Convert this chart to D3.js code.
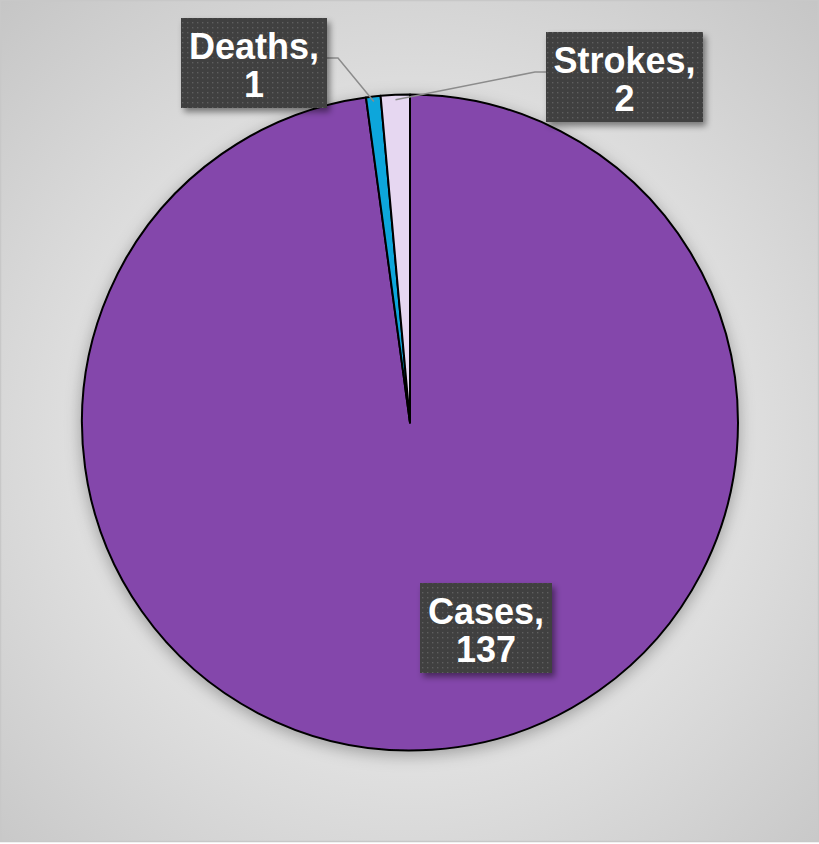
<!DOCTYPE html>
<html>
<head>
<meta charset="utf-8">
<script src="https://cdn.jsdelivr.net/npm/d3@7"></script>
<style>
  html, body { margin: 0; padding: 0; background: #fff; }
  svg { display: block; }
</style>
</head>
<body>
<svg id="chart" width="819" height="844"></svg>
<script>
// data
var categories = ['Cases', 'Deaths', 'Strokes']
var values = [137, 1, 2]
var colors = ['#8446ab', '#0ea6db', '#e6d7f1']

// label boxes (Excel style callouts)
var labelBoxes = [
  { x: 420, y: 583, w: 132, h: 90, leader: false },
  { x: 181, y: 18, w: 146, h: 90, leader: 'right' },
  { x: 546, y: 32, w: 157, h: 90, leader: 'left' }
]

var width = 819, height = 844
var cx = 410, cy = 422.5, radius = 328

var svg = d3.select('#chart')
var defs = svg.append('defs')

var bg = defs.append('radialGradient')
  .attr('id', 'bg')
  .attr('gradientUnits', 'userSpaceOnUse')
  .attr('cx', cx).attr('cy', cy + 20).attr('r', 620)
bg.append('stop').attr('offset', '0%').attr('stop-color', '#efefef')
bg.append('stop').attr('offset', '45%').attr('stop-color', '#e4e4e4')
bg.append('stop').attr('offset', '100%').attr('stop-color', '#c4c4c4')

var pieShadow = defs.append('filter').attr('id', 'pieShadow')
  .attr('x', '-20%').attr('y', '-20%').attr('width', '140%').attr('height', '140%')
pieShadow.append('feDropShadow')
  .attr('dx', 0).attr('dy', 4).attr('stdDeviation', 8)
  .attr('flood-color', '#000').attr('flood-opacity', 0.3)

var boxShadow = defs.append('filter').attr('id', 'boxShadow')
  .attr('x', '-20%').attr('y', '-20%').attr('width', '140%').attr('height', '140%')
boxShadow.append('feDropShadow')
  .attr('dx', 3).attr('dy', 4).attr('stdDeviation', 3)
  .attr('flood-color', '#000').attr('flood-opacity', 0.45)

var dots = defs.append('pattern')
  .attr('id', 'dots')
  .attr('patternUnits', 'userSpaceOnUse')
  .attr('width', 5).attr('height', 5)
dots.append('rect').attr('width', 5).attr('height', 5).attr('fill', '#404040')
dots.append('rect').attr('x', 2).attr('y', 2).attr('width', 1.4).attr('height', 1.4)
  .attr('fill', '#5e5e5e')

// background + frame
svg.append('rect')
  .attr('x', 0.5).attr('y', 0.5)
  .attr('width', width - 1).attr('height', height - 3)
  .attr('fill', 'url(#bg)')
  .attr('stroke', '#c8c8c8')
  .attr('stroke-width', 1.5)

var pie = d3.pie().sort(null).value((d) => d)
var arcs = pie(values)

var arc = d3.arc().innerRadius(0).outerRadius(radius)

var g = svg.append('g').attr('transform', 'translate(' + cx + ',' + cy + ')')

g.append('g')
  .attr('filter', 'url(#pieShadow)')
  .selectAll('path')
  .data(arcs)
  .enter()
  .append('path')
    .attr('d', arc)
    .attr('fill', (d, i) => colors[i])
    .attr('stroke', '#000')
    .attr('stroke-width', 2)
    .attr('stroke-linejoin', 'round')

// leader lines
var edgeArc = d3.arc().innerRadius(radius - 5).outerRadius(radius - 5)
arcs.forEach((d, i) => {
  var b = labelBoxes[i]
  if (!b.leader) return
  var p = edgeArc.centroid(d)
  var px = cx + p[0], py = cy + p[1]
  var sx = b.leader === 'right' ? b.x + b.w : b.x
  var sy = b.y + 40
  var kx = b.leader === 'right' ? sx + 11 : sx - 11
  svg.append('polyline')
    .attr('points', [[sx, sy], [kx, sy], [px, py]].map((q) => q.join(',')).join(' '))
    .attr('fill', 'none')
    .attr('stroke', '#8c8c8c')
    .attr('stroke-width', 1.5)
})

// label boxes
var labels = svg.append('g')
  .selectAll('g')
  .data(arcs)
  .enter()
  .append('g')

labels.append('rect')
  .attr('x', (d, i) => labelBoxes[i].x)
  .attr('y', (d, i) => labelBoxes[i].y)
  .attr('width', (d, i) => labelBoxes[i].w)
  .attr('height', (d, i) => labelBoxes[i].h)
  .attr('fill', 'url(#dots)')
  .attr('filter', 'url(#boxShadow)')

var txt = labels.append('text')
  .attr('text-anchor', 'middle')
  .attr('font-family', '"Liberation Sans", Arial, sans-serif')
  .attr('font-weight', 'bold')
  .attr('font-size', 36)
  .attr('fill', '#fff')

txt.append('tspan')
  .attr('x', (d, i) => labelBoxes[i].x + labelBoxes[i].w / 2)
  .attr('y', (d, i) => labelBoxes[i].y + 41)
  .text((d, i) => categories[i] + ',')

txt.append('tspan')
  .attr('x', (d, i) => labelBoxes[i].x + labelBoxes[i].w / 2)
  .attr('y', (d, i) => labelBoxes[i].y + 79)
  .text((d) => d.data)
</script>
</body>
</html>
